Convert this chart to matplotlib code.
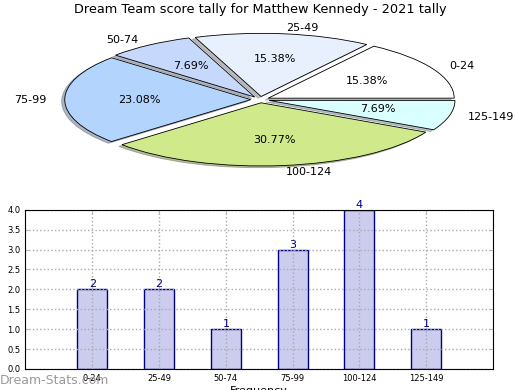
import matplotlib
matplotlib.use("Agg")
import matplotlib.pyplot as plt

title = "Dream Team score tally for Matthew Kennedy - 2021 tally"
intervals = ["0-24", "25-49", "50-74", "75-99", "100-124", "125-149"]
counts = [2, 2, 1, 3, 4, 1]
pie_colors = ["#ffffff", "#e8f0fe", "#c6d9fd", "#b3d4fd", "#d0ea8b", "#d9ffff"]
y_ticks = [0.0, 0.5, 1.0, 1.5, 2.0, 2.5, 3.0, 3.5, 4.0]

fig = plt.figure(figsize=(5.2, 3.9), dpi=100)

# pie, squashed into a wide axes
ax_pie = fig.add_axes([0.053, 0.542, 0.894, 0.405])
ax_pie.pie(
    counts,
    labels=intervals,
    colors=pie_colors,
    explode=[0.05] * len(counts),
    autopct="%1.2f%%",
    shadow={"ox": -0.012, "oy": -0.02, "shade": 0.5},
    startangle=0,
    wedgeprops={"edgecolor": "black", "linewidth": 0.6},
    textprops={"fontsize": 8},
)
ax_pie.set_aspect("auto")
ax_pie.set_xlim(-1.25, 1.25)
ax_pie.set_ylim(-1.25, 1.25)
fig.text(0.5, 0.975, title, ha="center", va="center", fontsize=9.3)

# bar chart
ax_bar = fig.add_axes([0.049, 0.054, 0.899, 0.408])
pos = list(range(1, len(counts) + 1))
ax_bar.bar(pos, counts, width=0.45, color="#ccccee", edgecolor="navy", linewidth=1.0, zorder=1)
for p, c in zip(pos, counts):
    ax_bar.text(p, c, str(c), ha="center", va="bottom", color="navy", fontsize=8, zorder=4)
ax_bar.set_xlim(0, len(counts) + 1)
ax_bar.set_ylim(0, 4)
ax_bar.set_xticks(pos)
ax_bar.set_xticklabels(intervals, fontsize=6)
ax_bar.set_yticks(y_ticks)
ax_bar.set_yticklabels([f"{v:.1f}" for v in y_ticks], fontsize=6)
ax_bar.tick_params(direction="in", length=3, top=True, right=True, color="#bbbbbb")
ax_bar.grid(True, linestyle=":", color="#aaaaaa", linewidth=1.0)
ax_bar.set_axisbelow(False)
for gl in ax_bar.get_xgridlines() + ax_bar.get_ygridlines():
    gl.set_zorder(2)
for sp in ax_bar.spines.values():
    sp.set_zorder(3)
ax_bar.set_xlabel("Frequency", fontsize=8, labelpad=2)
ax_bar.set_ylabel("Stat Intervals", fontsize=8, labelpad=4)

fig.text(0.0, 0.025, "Dream-Stats.com", ha="left", va="center", fontsize=9, color="#999999")

fig.savefig("out.png", dpi=100)
